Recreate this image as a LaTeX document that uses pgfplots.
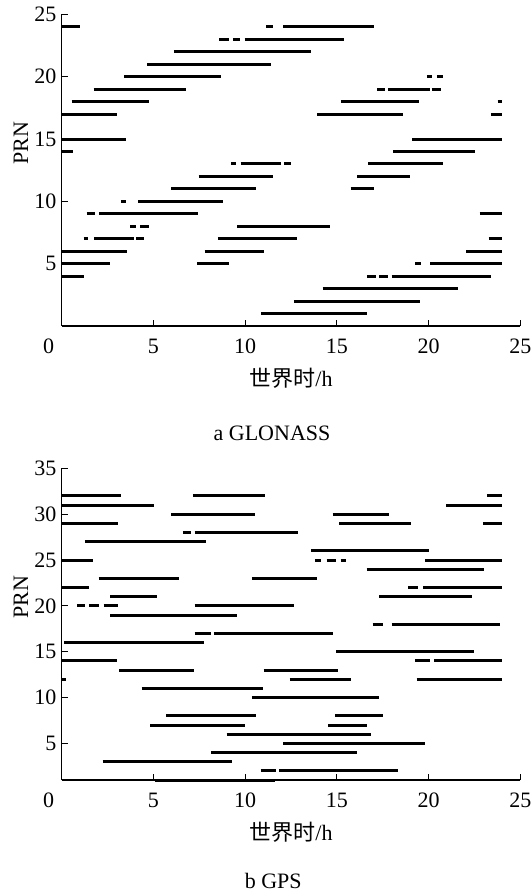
\documentclass[border=0pt]{standalone}
\usepackage{fontspec}
\setmainfont{Liberation Serif}
\newfontfamily\cjk{Noto Sans CJK SC}
\usepackage{pgfplots}
\usepackage{pgfplotstable}
\pgfplotsset{compat=1.18}

% GLONASS visibility segments (start/end hour, PRN), separated by nan rows
\pgfplotstableread{
x y
0 24
1.0 24
nan nan
11.16 24
11.52 24
nan nan
12.07 24
17.02 24
nan nan
8.6 23
9.1 23
nan nan
9.33 23
9.7 23
nan nan
9.97 23
15.38 23
nan nan
6.11 22
13.58 22
nan nan
4.66 21
11.39 21
nan nan
3.42 20
8.7 20
nan nan
19.9 20
20.17 20
nan nan
20.45 20
20.81 20
nan nan
1.74 19
6.79 19
nan nan
17.2 19
17.62 19
nan nan
17.8 19
20.08 19
nan nan
20.17 19
20.67 19
nan nan
0.54 18
4.74 18
nan nan
15.22 18
19.5 18
nan nan
23.76 18
24.0 18
nan nan
0 17
3.0 17
nan nan
13.94 17
18.59 17
nan nan
23.4 17
24.0 17
nan nan
0 15
3.5 15
nan nan
19.1 15
24.0 15
nan nan
0 14
0.6 14
nan nan
18.08 14
22.54 14
nan nan
9.25 13
9.52 13
nan nan
9.75 13
11.98 13
nan nan
12.12 13
12.5 13
nan nan
16.71 13
20.78 13
nan nan
7.46 12
11.52 12
nan nan
16.11 12
18.99 12
nan nan
5.97 11
10.57 11
nan nan
15.75 11
17.04 11
nan nan
3.23 10
3.51 10
nan nan
4.18 10
8.79 10
nan nan
1.36 9
1.81 9
nan nan
2.05 9
7.42 9
nan nan
22.78 9
24.0 9
nan nan
3.74 8
4.05 8
nan nan
4.29 8
4.78 8
nan nan
9.57 8
14.62 8
nan nan
1.19 7
1.45 7
nan nan
1.78 7
3.96 7
nan nan
4.05 7
4.51 7
nan nan
8.51 7
12.8 7
nan nan
23.27 7
24.0 7
nan nan
0 6
3.54 6
nan nan
7.79 6
11.03 6
nan nan
22.05 6
24.0 6
nan nan
0 5
2.65 5
nan nan
7.39 5
9.1 5
nan nan
19.26 5
19.57 5
nan nan
20.08 5
24.0 5
nan nan
0 4
1.19 4
nan nan
16.66 4
17.11 4
nan nan
17.31 4
17.8 4
nan nan
17.99 4
23.4 4
nan nan
14.22 3
21.63 3
nan nan
12.65 2
19.54 2
nan nan
10.88 1
16.66 1
}\glonass

% GPS visibility segments
\pgfplotstableread{
x y
0 32
3.23 32
nan nan
7.15 32
11.1 32
nan nan
23.18 32
24.0 32
nan nan
0 31
5.05 31
nan nan
20.96 31
24.0 31
nan nan
5.97 30
10.52 30
nan nan
14.77 30
17.86 30
nan nan
0 29
3.05 29
nan nan
15.13 29
19.04 29
nan nan
22.96 29
24.0 29
nan nan
6.6 28
7.06 28
nan nan
7.24 28
12.89 28
nan nan
1.27 27
7.88 27
nan nan
13.58 26
20.04 26
nan nan
0 25
1.72 25
nan nan
13.8 25
14.16 25
nan nan
14.44 25
14.98 25
nan nan
15.2 25
15.49 25
nan nan
19.81 25
24.0 25
nan nan
16.62 24
23.0 24
nan nan
2.01 23
6.42 23
nan nan
10.37 23
13.89 23
nan nan
0 22
1.5 22
nan nan
18.9 22
19.44 22
nan nan
19.72 22
24.0 22
nan nan
2.65 21
5.2 21
nan nan
17.3 21
22.36 21
nan nan
0.86 20
1.27 20
nan nan
1.5 20
2.05 20
nan nan
2.28 20
3.05 20
nan nan
7.24 20
12.65 20
nan nan
2.65 19
9.57 19
nan nan
16.95 18
17.53 18
nan nan
17.99 18
23.91 18
nan nan
7.24 17
8.15 17
nan nan
8.3 17
14.77 17
nan nan
0.14 16
7.75 16
nan nan
14.98 15
22.45 15
nan nan
0 14
3.0 14
nan nan
19.26 14
20.08 14
nan nan
20.32 14
24.0 14
nan nan
3.14 13
7.2 13
nan nan
11.01 13
15.07 13
nan nan
0 12
0.25 12
nan nan
12.43 12
15.77 12
nan nan
19.35 12
24.0 12
nan nan
4.36 11
10.97 11
nan nan
10.37 10
17.31 10
nan nan
5.69 8
10.61 8
nan nan
14.89 8
17.53 8
nan nan
4.82 7
10.01 7
nan nan
14.53 7
16.62 7
nan nan
8.99 6
16.84 6
nan nan
12.07 5
19.81 5
nan nan
8.15 4
16.11 4
nan nan
2.23 3
9.3 3
nan nan
10.85 2
11.7 2
nan nan
11.85 2
18.35 2
nan nan
5.11 1
11.61 1
}\gps

\pgfplotsset{
  vis/.style={
    scale only axis, width=229.3pt, height=155.8pt,
    axis x line*=bottom, axis y line*=left,
    xmin=0, xmax=25, xtick={0,5,...,25},
    xticklabels={0\kern13pt,5,10,15,20,25},
    tick align=inside, major tick length=3pt,
    tick style={black, line width=0.5pt},
    axis line style={black, line width=0.6pt},
    /pgf/number format/assume math mode=true,
    tick label style={font=\fontsize{11}{13}\selectfont},
    xticklabel style={yshift=-3pt},
    yticklabel style={inner xsep=2.5pt},
    label style={font=\fontsize{11}{13}\selectfont},
    xlabel={{\cjk 世界时}/h},
    ylabel={PRN},
    ylabel style={at={(axis description cs:-0.089,0.587)}, anchor=center},
    unbounded coords=jump,
    clip=false,
  },
  seg/.style={black, line width=1.5pt, no markers},
}

\begin{document}
\begin{tikzpicture}
\useasboundingbox (0,0) rectangle (265.5pt,-446pt);
\begin{axis}[vis, at={(30.85pt,-163pt)}, anchor=south west,
  ymin=0, ymax=25, ytick={5,10,...,25}]
\addplot[seg] table {\glonass};
\end{axis}
\node[font=\fontsize{11}{13}\selectfont] at (136pt,-216.8pt) {a GLONASS};
\begin{axis}[vis, at={(30.85pt,-390pt)}, anchor=south west,
  ymin=1, ymax=35, ytick={5,10,...,35}]
\addplot[seg] table {\gps};
\end{axis}
\node[font=\fontsize{11}{13}\selectfont, inner sep=1pt] at (136.6pt,-440.3pt) {b GPS};
\end{tikzpicture}
\end{document}
